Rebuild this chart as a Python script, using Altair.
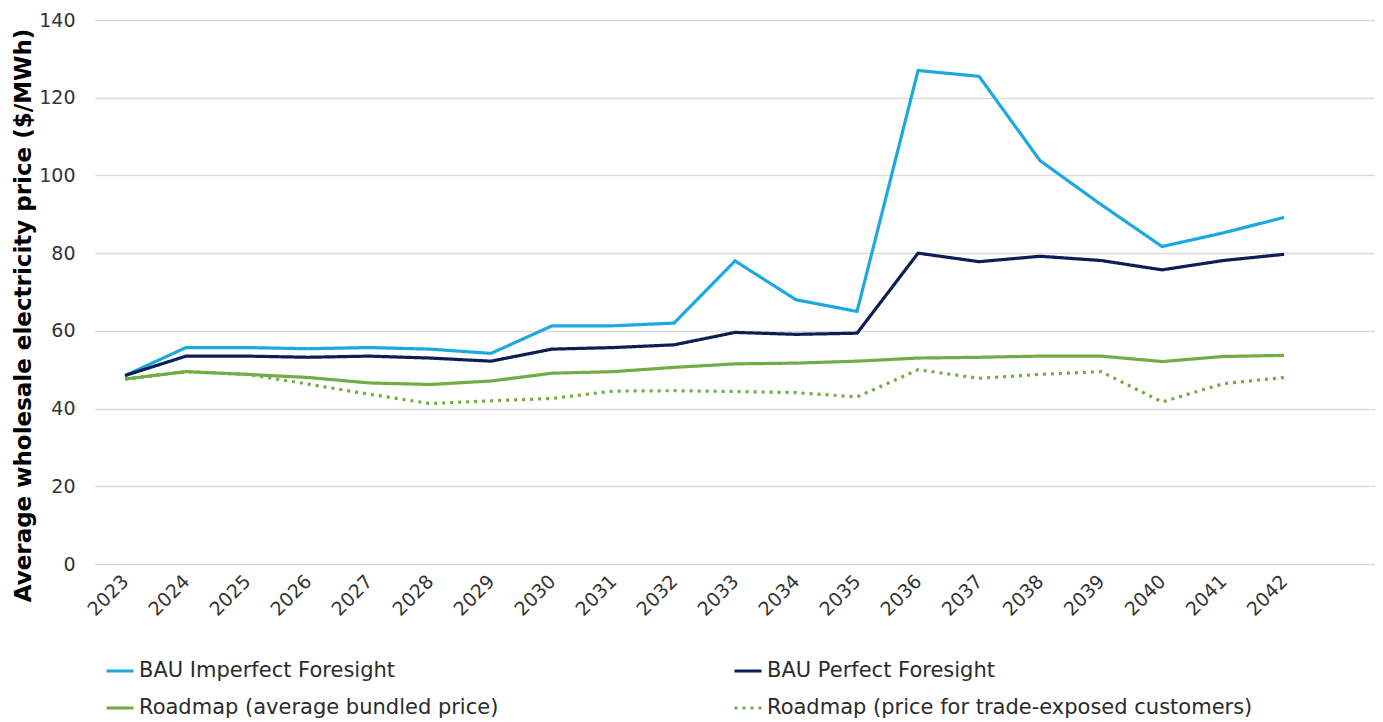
import altair as alt
import pandas as pd

years = list(range(2023, 2043))
series_names = [
    "BAU Imperfect Foresight",
    "BAU Perfect Foresight",
    "Roadmap (average bundled price)",
    "Roadmap (price for trade-exposed customers)",
]
bau_imperfect = [48.5, 55.7, 55.7, 55.4, 55.7, 55.3, 54.2, 61.3, 61.3, 62.0,
                 78.0, 68.0, 65.0, 127.0, 125.5, 103.8, 92.5, 81.7, 85.2, 89.2]
bau_perfect = [48.5, 53.5, 53.5, 53.2, 53.5, 53.0, 52.2, 55.3, 55.7, 56.4,
               59.6, 59.1, 59.4, 80.0, 77.8, 79.2, 78.1, 75.7, 78.1, 79.7]
roadmap_avg = [47.6, 49.5, 48.8, 48.0, 46.6, 46.2, 47.1, 49.1, 49.5, 50.6,
               51.5, 51.7, 52.2, 53.0, 53.2, 53.5, 53.5, 52.1, 53.4, 53.7]
roadmap_trade = [47.6, 49.5, 48.8, 46.3, 43.7, 41.3, 42.0, 42.6, 44.5, 44.6,
                 44.4, 44.1, 43.0, 50.0, 47.8, 48.8, 49.5, 41.7, 46.4, 48.0]

colors = ["#1EA9DE", "#0D1E55", "#72AC45", "#72AC45"]
dashes = [[1, 0], [1, 0], [1, 0], [3, 5]]

rows = []
for name, vals in zip(series_names, [bau_imperfect, bau_perfect, roadmap_avg, roadmap_trade]):
    for y, v in zip(years, vals):
        rows.append({"year": y, "price": v, "series": name})
df = pd.DataFrame(rows)

FONT = "DejaVu Sans"

color_enc = alt.Color(
    "series:N",
    scale=alt.Scale(domain=series_names, range=colors),
    legend=alt.Legend(
        title=None,
        orient="none",
        legendX=10,
        legendY=636,
        columns=2,
        direction="horizontal",
        symbolType="stroke",
        symbolSize=729,
        symbolStrokeWidth=3,
        labelFont=FONT,
        labelFontSize=21,
        labelColor="#2B2B2B",
        labelLimit=800,
        labelOffset=4,
        rowPadding=12,
        columnPadding=229,
    ),
)
dash_enc = alt.StrokeDash(
    "series:N",
    scale=alt.Scale(domain=series_names, range=dashes),
    legend=None,
)

x_enc = alt.X(
    "year:Q",
    scale=alt.Scale(domain=[2022.508, 2043.49], nice=False, zero=False),
    axis=alt.Axis(
        values=years,
        format="d",
        title=None,
        grid=False,
        domain=False,
        ticks=False,
        labelAngle=-45,
        labelAlign="right",
        labelBaseline="middle",
        labelPadding=14,
        labelFont=FONT,
        labelFontSize=19,
        labelColor="#333333",
        labelOverlap=False,
    ),
)
y_enc = alt.Y(
    "price:Q",
    scale=alt.Scale(domain=[0, 140], nice=False),
    axis=alt.Axis(
        values=[0, 20, 40, 60, 80, 100, 120, 140],
        title="Average wholesale electricity price ($/MWh)",
        titleFont=FONT,
        titleFontSize=23,
        titleFontWeight="bold",
        titleColor="#000000",
        titleAngle=-90,
        titleAlign="center",
        titleBaseline="alphabetic",
        titleX=-65,
        titleY=295,
        domain=False,
        ticks=False,
        labelPadding=20,
        labelFont=FONT,
        labelFontSize=19,
        labelColor="#333333",
        gridColor="#D9D9D9",
        gridWidth=1.5,
    ),
)

base = alt.Chart(df).encode(x=x_enc, y=y_enc, color=color_enc, strokeDash=dash_enc)

dotted = base.transform_filter(alt.datum.series == series_names[3]).mark_line(strokeWidth=3.2)
solid = base.transform_filter(alt.datum.series != series_names[3]).mark_line(strokeWidth=3.2)

chart = alt.layer(dotted, solid).properties(
    width=1280,
    height=544,
    padding={"left": 87, "top": 12, "right": 0, "bottom": 158},
    autosize=alt.AutoSizeParams(type="none"),
).configure_view(stroke=None)

chart.save("out.html", embed_options={"renderer": "svg", "actions": False})
